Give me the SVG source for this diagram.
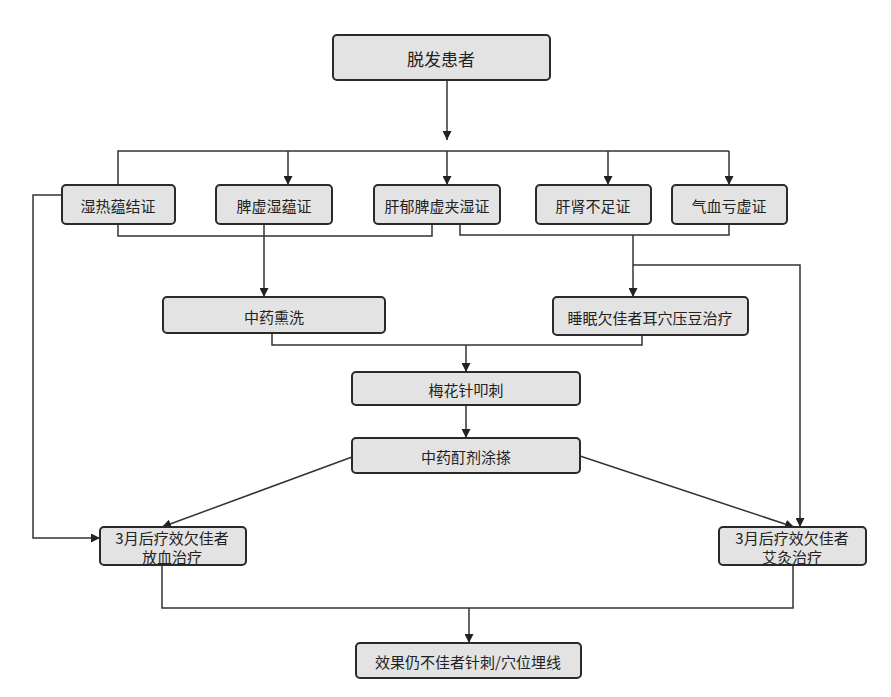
<svg xmlns="http://www.w3.org/2000/svg" width="891" height="697" viewBox="0 0 891 697">
<style>
.n rect{fill:#e3e3e3;stroke:#2a2a2a;stroke-width:2}
.n text{font-family:"Noto Sans CJK SC","Liberation Serif",serif;font-size:15px;fill:#222;text-anchor:middle;dominant-baseline:central}
.c{fill:none;stroke:#333;stroke-width:1.5}
</style>
<defs><marker id="a" viewBox="0 0 10 10" refX="10" refY="5" markerWidth="9" markerHeight="9" markerUnits="userSpaceOnUse" orient="auto"><path d="M0,0L10,5L0,10z" fill="#222"/></marker></defs>
<rect width="891" height="697" fill="#fff"/>
<g id="connectors" class="c">
<path d="M447,80V140" marker-end="url(#a)"/>
<path d="M118,185V151H729"/>
<path d="M288,151V185" marker-end="url(#a)"/>
<path d="M447,151V185" marker-end="url(#a)"/>
<path d="M608,151V185" marker-end="url(#a)"/>
<path d="M729,151V185" marker-end="url(#a)"/>
<path d="M118,224V236H432V224"/>
<path d="M264,224V297" marker-end="url(#a)"/>
<path d="M460,224V235H729V224"/>
<path d="M633,235V297" marker-end="url(#a)"/>
<path d="M633,265H800V527" marker-end="url(#a)"/>
<path d="M62,195H33V538H100" marker-end="url(#a)"/>
<path d="M272,333V345H642V335"/>
<path d="M466,345V372" marker-end="url(#a)"/>
<path d="M466,405V438" marker-end="url(#a)"/>
<path d="M352,457L162,527" marker-end="url(#a)"/>
<path d="M580,456L794,527" marker-end="url(#a)"/>
<path d="M162,565V608H793V565"/>
<path d="M469,608V643" marker-end="url(#a)"/>
</g>
<g id="n1" class="n"><rect x="333" y="35" width="217" height="45" rx="4"/><text x="441" y="58" style="font-size:17px">脱发患者</text></g>
<g id="n2" class="n"><rect x="62" y="185" width="113" height="39" rx="4"/><text x="118" y="205">湿热蕴结证</text></g>
<g id="n3" class="n"><rect x="216" y="185" width="116" height="39" rx="4"/><text x="274" y="205">脾虚湿蕴证</text></g>
<g id="n4" class="n"><rect x="374" y="185" width="126" height="39" rx="4"/><text x="437" y="205">肝郁脾虚夹湿证</text></g>
<g id="n5" class="n"><rect x="536" y="185" width="115" height="39" rx="4"/><text x="593" y="205">肝肾不足证</text></g>
<g id="n6" class="n"><rect x="672" y="185" width="115" height="39" rx="4"/><text x="729" y="205">气血亏虚证</text></g>
<g id="n7" class="n"><rect x="163" y="297" width="222" height="36" rx="4"/><text x="274" y="316">中药熏洗</text></g>
<g id="n8" class="n"><rect x="553" y="297" width="195" height="38" rx="4"/><text x="650" y="317">睡眠欠佳者耳穴压豆治疗</text></g>
<g id="n9" class="n"><rect x="352" y="372" width="228" height="33" rx="4"/><text x="466" y="389">梅花针叩刺</text></g>
<g id="n10" class="n"><rect x="352" y="438" width="228" height="35" rx="4"/><text x="466" y="456">中药酊剂涂搽</text></g>
<g id="n11" class="n"><rect x="100" y="527" width="146" height="38" rx="4"/><text x="172" y="537">3月后疗效欠佳者</text><text x="172" y="556">放血治疗</text></g>
<g id="n12" class="n"><rect x="719" y="527" width="147" height="38" rx="4"/><text x="792" y="537">3月后疗效欠佳者</text><text x="792" y="556">艾灸治疗</text></g>
<g id="n13" class="n"><rect x="356" y="643" width="225" height="35" rx="4"/><text x="468" y="661">效果仍不佳者针刺/穴位埋线</text></g>
</svg>
